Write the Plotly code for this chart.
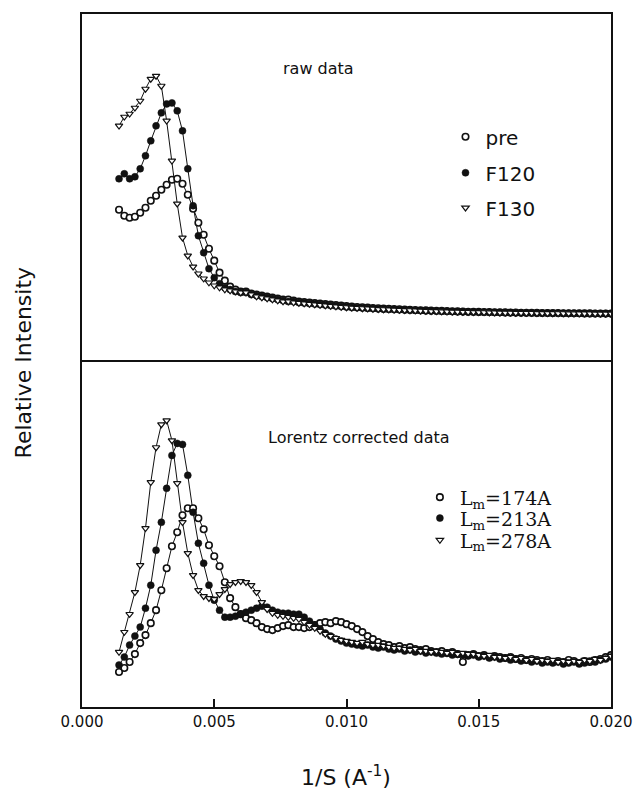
import plotly.graph_objects as go

# x values: 1/S (A^-1)
inv_s = [0.0014, 0.0016, 0.0018, 0.0020, 0.0022, 0.0024, 0.0026, 0.0028, 0.0030, 0.0032,
         0.0034, 0.0036, 0.0038, 0.0040, 0.0042, 0.0044, 0.0046, 0.0048, 0.0050, 0.0052,
         0.0054, 0.0056, 0.0058, 0.0060, 0.0062, 0.0064, 0.0066, 0.0068, 0.0070, 0.0072,
         0.0074, 0.0076, 0.0078, 0.0080, 0.0082, 0.0084, 0.0086, 0.0088, 0.0090, 0.0092,
         0.0094, 0.0096, 0.0098, 0.0100, 0.0102, 0.0104, 0.0106, 0.0108, 0.0110, 0.0112,
         0.0114, 0.0116, 0.0118, 0.0120, 0.0122, 0.0124, 0.0126, 0.0128, 0.0130, 0.0132,
         0.0134, 0.0136, 0.0138, 0.0140, 0.0142, 0.0144, 0.0146, 0.0148, 0.0150, 0.0152,
         0.0154, 0.0156, 0.0158, 0.0160, 0.0162, 0.0164, 0.0166, 0.0168, 0.0170, 0.0172,
         0.0174, 0.0176, 0.0178, 0.0180, 0.0182, 0.0184, 0.0186, 0.0188, 0.0190, 0.0192,
         0.0194, 0.0196, 0.0198, 0.0200]

# ---- raw data (top panel), arbitrary units ----
raw_pre = [150, 144, 142, 143, 147, 152, 159, 164, 170, 175, 180, 181, 176, 165, 151, 137, 125, 111, 99, 87,
           79, 73, 70, 68, 68, 66, 65, 64, 63, 62, 61, 60, 60, 59,
           58, 57.5, 57, 56.5, 56, 55.5, 55, 54.5, 54, 53.5, 53, 52.6, 52.3, 52, 51.6, 51.3, 51, 50.8, 50.5, 50.3,
           50, 49.8, 49.6, 49.4, 49.2, 49, 48.8, 48.7, 48.5, 48.3, 48.2, 48, 47.9, 47.8, 47.7, 47.6, 47.5, 47.4, 47.3, 47.2,
           47.1, 47, 46.9, 46.8, 46.8, 46.7, 46.6, 46.6, 46.5, 46.5, 46.4, 46.4, 46.3, 46.3, 46.2, 46.2, 46.1, 46.1, 46, 46]
raw_f120 = [181, 186, 181, 183, 191, 204, 219, 234, 247, 256, 257, 249, 229, 191, 154, 124, 107, 91, 82, 76,
            72, 70, 68, 67, 67, 65, 64, 63, 62, 61, 60, 59, 58, 58,
            57, 56.5, 56, 55.5, 55, 54.5, 54, 53.5, 53, 52.5, 52, 51.8, 51.5, 51.2, 51, 50.7, 50.4, 50.2, 50, 49.8,
            49.6, 49.4, 49.2, 49, 48.8, 48.6, 48.5, 48.3, 48.2, 48, 47.9, 47.8, 47.7, 47.6, 47.5, 47.4, 47.3, 47.2, 47.1, 47,
            46.9, 46.8, 46.8, 46.7, 46.6, 46.6, 46.5, 46.5, 46.4, 46.4, 46.3, 46.3, 46.2, 46.2, 46.1, 46.1, 46, 46, 46, 46]
raw_f130 = [234, 243, 246, 252, 259, 271, 281, 284, 274, 239, 199, 156, 122, 104, 93, 86, 81, 77, 74, 72,
            70, 69, 68, 67, 67, 65, 63, 62, 61, 60, 59, 58, 58, 57,
            56.5, 56, 55.5, 55, 54.5, 54, 53.5, 53, 52.6, 52.2, 51.8, 51.5, 51.2, 51, 50.7, 50.4, 50.2, 50, 49.8, 49.6,
            49.4, 49.2, 49, 48.8, 48.6, 48.4, 48.3, 48.1, 48, 47.8, 47.7, 47.6, 47.5, 47.4, 47.3, 47.2, 47.1, 47, 46.9, 46.8,
            46.7, 46.6, 46.6, 46.5, 46.5, 46.4, 46.4, 46.3, 46.3, 46.2, 46.2, 46.1, 46.1, 46, 46, 46, 45.9, 45.9, 45.9, 45.9]

# ---- Lorentz corrected data (bottom panel), arbitrary units ----
lor_174 = [35, 39, 45, 53, 64, 72, 84, 97, 117, 139, 161, 175, 192, 199, 199, 189, 178, 162, 151, 141,
           125, 109, 100, 93, 89, 87, 84, 80, 78, 77, 79, 81, 82, 80,
           80, 79, 80, 82, 84, 85, 84, 86, 85, 83, 81, 78, 75, 71, 68, 65, 63, 62, 60, 61,
           59, 60, 58, 57, 58, 56, 55, 56, 54, 55, 53, 45, 52, 53, 51, 52, 50, 51, 50, 49,
           50, 48, 49, 47, 48, 47, 46, 47, 45, 46, 45, 47, 46, 44, 46, 45, 47, 48, 50, 52]
lor_213 = [42, 50, 62, 71, 80, 99, 122, 157, 185, 219, 252, 264, 263, 232, 195, 164, 144, 122, 107, 97,
           90, 90, 91, 93, 95, 97, 99, 101, 100, 97, 95, 94, 94, 93,
           93, 90, 86, 82, 78, 74, 71, 68, 66, 64, 63, 62, 61, 62, 60, 59, 60, 58, 57, 58,
           56, 57, 55, 56, 54, 55, 54, 53, 54, 52, 53, 52, 51, 52, 50, 51, 49, 50, 48, 49,
           47, 48, 46, 47, 45, 46, 44, 45, 44, 45, 43, 44, 45, 43, 44, 46, 45, 47, 48, 50]
lor_278 = [55, 75, 93, 115, 142, 179, 225, 260, 283, 287, 267, 224, 185, 154, 132, 117, 111, 109, 108, 113,
           118, 123, 125, 126, 125, 122, 115, 105, 98, 94, 92, 91, 90, 89,
           88, 85, 82, 79, 76, 73, 71, 69, 67, 66, 65, 64, 65, 63, 62, 62, 61, 60, 59, 59,
           58, 57, 58, 56, 56, 55, 56, 55, 54, 55, 53, 54, 53, 53, 52, 51, 52, 50, 50, 49,
           50, 48, 49, 47, 48, 46, 47, 46, 47, 45, 46, 45, 46, 45, 47, 46, 48, 47, 49, 51]

top_names = ["pre", "F120", "F130"]
bottom_names = ["L<sub>m</sub>=174A", "L<sub>m</sub>=213A", "L<sub>m</sub>=278A"]
x_ticks = [0.000, 0.005, 0.010, 0.015, 0.020]
x_tick_text = ["0.000", "0.005", "0.010", "0.015", "0.020"]

BLACK = "#111111"
marker_styles = [
    dict(symbol="circle", size=6.5, color="white", line=dict(color=BLACK, width=1.6)),
    dict(symbol="circle", size=7, color=BLACK, line=dict(color=BLACK, width=0.5)),
    dict(symbol="triangle-down", size=6.5, color="white", line=dict(color=BLACK, width=1.2)),
]

fig = go.Figure()

top_series = [raw_pre, raw_f120, raw_f130]
bot_series = [lor_174, lor_213, lor_278]

# connecting lines
for ys in top_series:
    fig.add_trace(go.Scatter(x=inv_s, y=ys, mode="lines", xaxis="x2", yaxis="y2",
                             line=dict(color=BLACK, width=1), showlegend=False, hoverinfo="skip"))
for ys in bot_series:
    fig.add_trace(go.Scatter(x=inv_s, y=ys, mode="lines", xaxis="x", yaxis="y",
                             line=dict(color=BLACK, width=1), showlegend=False, hoverinfo="skip"))

# markers (with legends)
top_legends = ["legend", "legend2", "legend3"]
bot_legends = ["legend4", "legend5", "legend6"]
for ys, nm, ms, lg in zip(top_series, top_names, marker_styles, top_legends):
    fig.add_trace(go.Scatter(x=inv_s, y=ys, mode="markers", xaxis="x2", yaxis="y2",
                             marker=ms, name=nm, legend=lg))
for ys, nm, ms, lg in zip(bot_series, bottom_names, marker_styles, bot_legends):
    fig.add_trace(go.Scatter(x=inv_s, y=ys, mode="markers", xaxis="x", yaxis="y",
                             marker=ms, name=nm, legend=lg))

W, H = 644, 793
L, R, T, B = 82, 25, 13, 86
split = 0.5014

axis_common = dict(showline=True, linecolor=BLACK, linewidth=2,
                   showgrid=False, zeroline=False)

def leg(x, y, fam, size):
    return dict(x=x, y=y, xanchor="left", yanchor="middle", bgcolor="rgba(0,0,0,0)",
                borderwidth=0, font=dict(family=fam, size=size, color=BLACK),
                itemclick=False, itemdoubleclick=False)

pw = W - L - R
ph = H - T - B

def px_to_paper_x(p):
    return (p - L) / pw

def py_to_paper_y(p):
    return (H - B - p) / ph

fig.update_layout(
    width=W, height=H,
    margin=dict(l=L, r=R, t=T, b=B),
    paper_bgcolor="white", plot_bgcolor="white",
    font=dict(family="DejaVu Sans", color=BLACK),
    xaxis=dict(domain=[0, 1], anchor="y", range=[0, 0.020], tickvals=x_ticks, ticktext=x_tick_text,
               ticks="inside", ticklen=8, tickwidth=1.5, tickcolor=BLACK, mirror=False,
               tickfont=dict(family="DejaVu Sans", size=15, color=BLACK), **axis_common),
    xaxis2=dict(domain=[0, 1], anchor="y2", range=[0, 0.020], matches="x", showticklabels=False,
                ticks="", mirror=True, **axis_common),
    yaxis=dict(domain=[0, split], anchor="x", range=[0, 348], showticklabels=False, ticks="",
               mirror=True, **axis_common),
    yaxis2=dict(domain=[split, 1], anchor="x2", range=[0, 346], showticklabels=False, ticks="",
                mirror=True, **axis_common),
    legend=leg(px_to_paper_x(451), py_to_paper_y(136), "DejaVu Sans", 20),
    legend2=leg(px_to_paper_x(451), py_to_paper_y(172), "DejaVu Sans", 20),
    legend3=leg(px_to_paper_x(451), py_to_paper_y(207), "DejaVu Sans", 20),
    legend4=leg(px_to_paper_x(425), py_to_paper_y(497), "DejaVu Serif", 19),
    legend5=leg(px_to_paper_x(425), py_to_paper_y(518), "DejaVu Serif", 19),
    legend6=leg(px_to_paper_x(425), py_to_paper_y(540), "DejaVu Serif", 19),
    showlegend=True,
    annotations=[
        dict(text="raw data", x=px_to_paper_x(322), y=py_to_paper_y(68), xref="paper", yref="paper",
             showarrow=False, xanchor="center", yanchor="middle",
             font=dict(family="DejaVu Sans", size=16, color=BLACK)),
        dict(text="Lorentz corrected data", x=px_to_paper_x(363), y=py_to_paper_y(437), xref="paper", yref="paper",
             showarrow=False, xanchor="center", yanchor="middle",
             font=dict(family="DejaVu Sans", size=16, color=BLACK)),
        dict(text="Relative Intensity", x=px_to_paper_x(23), y=py_to_paper_y(362), xref="paper", yref="paper",
             showarrow=False, xanchor="center", yanchor="middle", textangle=-90,
             font=dict(family="DejaVu Sans", size=22, color=BLACK)),
        dict(text="1/S (A<sup>-1</sup>)", x=px_to_paper_x(350), y=py_to_paper_y(776), xref="paper", yref="paper",
             showarrow=False, xanchor="center", yanchor="middle",
             font=dict(family="DejaVu Sans", size=22, color=BLACK)),
    ],
)

fig.write_html("out.html")
